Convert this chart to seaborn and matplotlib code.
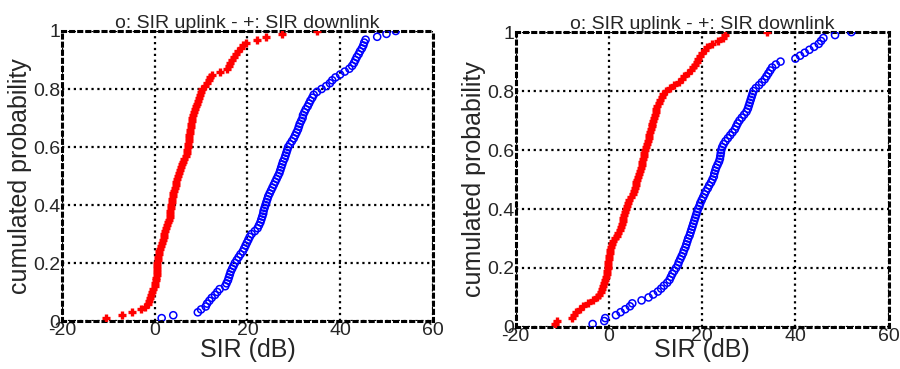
import numpy as np
import pandas as pd
import matplotlib
matplotlib.use("Agg")
import matplotlib.pyplot as plt
import seaborn as sns

# SIR samples (dB), sorted
down_a = [-10.5, -7, -5, -3, -2, -1.5, -1.2, -1, -0.8, -0.6,
          -0.3, 0, 0.1, 0.2, 0.3, 0.4, 0.4, 0.5, 0.5, 0.6,
          0.7, 0.8, 0.9, 1.0, 1.1, 1.3, 1.5, 1.7, 1.9, 2.1,
          2.3, 2.5, 2.6, 2.8, 3.0, 3.2, 3.3, 3.4, 3.5, 3.6,
          3.7, 3.8, 3.9, 4.0, 4.1, 4.3, 4.5, 4.7, 4.9, 5.1,
          5.3, 5.5, 5.7, 5.9, 6.1, 6.4, 6.7, 6.9, 7.0, 7.1,
          7.2, 7.3, 7.4, 7.5, 7.6, 7.7, 7.8, 7.9, 8.0, 8.1,
          8.3, 8.5, 8.7, 8.9, 9.1, 9.3, 9.5, 9.8, 10.0, 10.3,
          10.8, 11.3, 11.7, 12.0, 12.3, 14.0, 15.5, 16.0, 16.3, 16.6,
          17.0, 17.5, 18.0, 18.6, 19.0, 19.8, 22.0, 24.0, 27.5, 35.0]
up_a = [1.5, 4.0, 9.3, 10.0, 11.0, 11.3, 11.8, 12.3, 13.0, 13.5,
        14.0, 15.2, 15.5, 15.8, 16.0, 16.2, 16.4, 16.7, 17.0, 17.3,
        17.7, 18.1, 18.5, 19.0, 19.3, 19.6, 19.9, 20.2, 20.5, 20.9,
        21.6, 22.2, 22.5, 22.8, 23.0, 23.2, 23.4, 23.5, 23.7, 23.9,
        24.1, 24.3, 24.5, 24.8, 25.1, 25.4, 25.7, 26.0, 26.3, 26.6,
        26.9, 27.1, 27.3, 27.5, 27.7, 28.0, 28.2, 28.4, 28.6, 28.8,
        29.2, 29.6, 30.0, 30.3, 30.6, 30.9, 31.1, 31.3, 31.6, 31.9,
        32.0, 32.3, 32.6, 33.0, 33.3, 33.6, 34.0, 34.3, 35.0, 36.0,
        37.0, 37.8, 38.3, 39.0, 40.0, 41.0, 42.0, 42.6, 43.0, 43.3,
        43.6, 44.0, 44.3, 44.7, 45.0, 45.2, 45.5, 48.0, 50.0, 52.0]
down_b = [-11.5, -11.2, -8.0, -7.5, -7.0, -6.3, -5.5, -4.5, -3.5, -2.5,
          -2.2, -1.8, -1.5, -1.2, -1.0, -0.8, -0.6, -0.5, -0.4, -0.3,
          -0.2, -0.1, 0.0, 0.1, 0.2, 0.3, 0.4, 0.6, 0.8, 1.2,
          1.7, 2.0, 2.3, 2.6, 2.8, 3.0, 3.1, 3.2, 3.4, 3.6,
          3.8, 4.0, 4.4, 4.8, 5.1, 5.3, 5.5, 5.7, 5.9, 6.0,
          6.2, 6.4, 6.6, 6.8, 7.0, 7.1, 7.3, 7.5, 7.6, 7.8,
          8.0, 8.2, 8.4, 8.5, 8.7, 8.8, 9.0, 9.2, 9.3, 9.5,
          9.6, 9.8, 10.0, 10.2, 10.4, 10.7, 11.0, 11.3, 11.7, 12.2,
          13.0, 14.0, 15.0, 15.6, 16.2, 17.0, 17.6, 18.0, 18.4, 18.8,
          19.2, 19.6, 20.0, 20.5, 21.0, 22.0, 23.5, 24.5, 25.0, 34.0]
up_b = [-3.5, -1.0, -0.8, 1.5, 2.5, 3.5, 4.5, 5.0, 7.0, 8.5,
        9.5, 10.5, 11.2, 11.8, 12.5, 13.0, 13.3, 13.6, 14.0, 14.4,
        14.8, 15.0, 15.3, 15.6, 15.9, 16.1, 16.4, 16.6, 16.8, 17.0,
        17.3, 17.5, 17.7, 17.9, 18.1, 18.3, 18.5, 18.7, 18.9, 19.1,
        19.4, 19.6, 19.9, 20.2, 20.5, 20.8, 21.2, 21.5, 21.9, 22.2,
        22.5, 22.6, 22.8, 23.0, 23.3, 23.6, 23.8, 23.9, 24.0, 24.1,
        24.3, 24.6, 25.0, 25.5, 26.0, 26.5, 27.0, 27.3, 27.6, 28.0,
        28.5, 29.0, 29.5, 29.8, 30.0, 30.2, 30.4, 30.6, 30.8, 31.0,
        31.5, 32.2, 32.8, 33.4, 33.8, 34.2, 34.6, 35.0, 35.8, 36.8,
        40.0, 41.0, 42.0, 43.0, 44.0, 45.0, 45.5, 46.0, 48.5, 52.0]

x_ticks = [-20, 0, 20, 40, 60]
y_ticks = [0, 0.2, 0.4, 0.6, 0.8, 1]
y_labels = ["0", "0.2", "0.4", "0.6", "0.8", "1"]
title = "o: SIR uplink - +: SIR downlink"


def ecdf(vals):
    v = np.sort(np.asarray(vals, dtype=float))
    return pd.DataFrame({"sir": v, "p": np.arange(1, len(v) + 1) / len(v)})


sns.set_style("white")
plt.rcParams["font.family"] = ["Liberation Sans", "DejaVu Sans"]

fig = plt.figure(figsize=(9, 3.69), dpi=100)
boxes = [[0.0689, 0.130, 0.412, 0.786], [0.573, 0.114, 0.4144, 0.799]]
panels = [(up_a, down_a), (up_b, down_b)]
xpads = [-1, -5]

for box, (up, down), xpad in zip(boxes, panels, xpads):
    ax = fig.add_axes(box)
    sns.scatterplot(data=ecdf(down), x="sir", y="p", ax=ax, marker="+",
                    color="red", s=40, linewidth=2.4, zorder=3)
    sns.scatterplot(data=ecdf(up), x="sir", y="p", ax=ax, marker="o",
                    facecolor="none", edgecolor="blue", s=26, linewidth=1.1,
                    zorder=3)
    ax.set_xlim(-20, 60)
    ax.set_ylim(0, 1)
    ax.set_xticks(x_ticks)
    ax.set_xticklabels([str(t) for t in x_ticks])
    ax.set_yticks(y_ticks)
    ax.set_yticklabels(y_labels)
    ax.grid(True, color="black", linestyle=":", linewidth=1.6)
    for sp in ax.spines.values():
        sp.set_visible(True)
        sp.set_color("black")
        sp.set_linewidth(2.2)
        sp.set_linestyle(":")
    ax.tick_params(length=0, labelsize=14, pad=1)
    ax.set_xlabel("SIR (dB)", fontsize=18, labelpad=xpad)
    ax.set_ylabel("cumulated probability", fontsize=18, labelpad=1)
    ax.set_title(title, fontsize=14, pad=2)

fig.savefig("out.png", dpi=100)
